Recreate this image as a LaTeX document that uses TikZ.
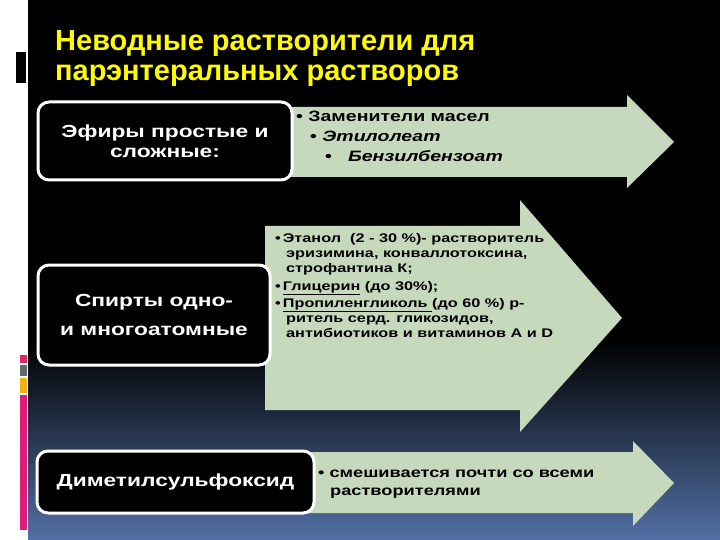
\documentclass[tikz,border=0pt]{standalone}
\usepackage{fontspec}
\setmainfont{Liberation Sans}
\newfontfamily\widesans[FakeStretch=1.3]{Liberation Sans}
\usetikzlibrary{positioning}
\definecolor{slideblue}{RGB}{82,112,165}
\definecolor{arrowgreen}{RGB}{199,217,189}
\definecolor{titleyellow}{RGB}{255,250,0}
\definecolor{stripred}{RGB}{225,40,95}
\definecolor{stripgray}{RGB}{95,105,112}
\definecolor{striporange}{RGB}{242,180,20}
\definecolor{stripmagenta}{RGB}{222,28,122}
\tikzset{
  catbox/.style   = {shape=rectangle, rounded corners=11pt,
                     draw=white, line width=3pt, fill=black,
                     text=white, align=center, inner sep=0pt},
  titleline/.style = {anchor=base west, inner sep=0pt, text=titleyellow,
                      font=\fontsize{29}{30}\selectfont\bfseries},
  linetext/.style = {anchor=base west, inner sep=0pt, text=black},
  bigarrow/.style = {fill=arrowgreen}
}

\begin{document}
\begin{tikzpicture}[x=1pt,y=-1pt]
\useasboundingbox (0,0) rectangle (720,540);
% slide background
\fill[white] (0,0) rectangle (720,540);
\fill[black] (28,0) rectangle (720,540);
\shade[top color=black, bottom color=slideblue] (28,340) rectangle (720,540);
\fill[black] (16,52) rectangle (26,83);
\fill[stripred] (20,355) rectangle (27,363);
\fill[stripgray] (20,365) rectangle (27,376);
\fill[striporange] (20,378) rectangle (27,393);
\fill[stripmagenta] (20,395) rectangle (27,530);

% title
\node[titleline] (title1) at (55,51) {Неводные растворители для};
\node[titleline] (title2) at (55,81) {парэнтеральных растворов};

% arrows behind the boxes
\fill[bigarrow] (285,107) -- (627,107) -- (627,95) -- (674,142)
   -- (627,188) -- (627,177) -- (285,177) -- cycle;
\fill[bigarrow] (265,226) -- (520,226) -- (520,200) -- (622,318)
   -- (520,432) -- (520,410) -- (265,410) -- cycle;
\fill[bigarrow] (305,452) -- (633,452) -- (633,441) -- (674,483)
   -- (633,526) -- (633,513) -- (305,513) -- cycle;

% boxes
\node[catbox, minimum width=254pt, minimum height=78pt,
      font=\widesans\fontsize{17.5}{20}\selectfont\bfseries] (ethers) at (165,141)
      {Эфиры простые и\\сложные:};
\node[catbox, minimum width=232pt, minimum height=100pt,
      font=\widesans\fontsize{17.5}{29}\selectfont\bfseries] (alcohols) at (154,315)
      {Спирты одно-\\и многоатомные};
\node[catbox, minimum width=277pt, minimum height=62pt,
      font=\widesans\fontsize{17.5}{21}\selectfont\bfseries] (dmso) at (175.5,482)
      {Диметилсульфоксид};

% ethers arrow
\begin{scope}[every node/.style={linetext, font=\widesans\fontsize{15}{18}\selectfont\bfseries}]
\node (eth1) at (296,122) {• Заменители масел};
\node (eth2) at (310,142) {• \itshape Этилолеат};
\node (eth3) at (325,162) {•\hspace{16pt}\itshape Бензилбензоат};
\end{scope}

% alcohols arrow
\begin{scope}[every node/.style={linetext, font=\widesans\fontsize{12.5}{15}\selectfont\bfseries}]
\node (alc1) at (275,243) {•\hspace{2pt}Этанол\ \ (2 - 30 \%)- растворитель};
\node (alc2) at (286,258) {эризимина, конваллотоксина,};
\node (alc3) at (286,272) {строфантина К;};
\node (alc4) at (275,290) {•\hspace{2pt}\underline{Глицерин} (до 30\%);};
\node (alc5) at (275,307) {•\hspace{2pt}\underline{Пропиленгликоль }(до 60 \%) р-};
\node (alc6) at (286,322) {ритель серд. гликозидов,};
\node (alc7) at (286,337) {антибиотиков и витаминов А и D};
\end{scope}

% dmso arrow
\begin{scope}[every node/.style={linetext, font=\widesans\fontsize{14}{18}\selectfont\bfseries}]
\node (dmso1) at (318,477) {• смешивается почти со всеми};
\node (dmso2) at (330,495) {растворителями};
\end{scope}
\end{tikzpicture}
\end{document}
